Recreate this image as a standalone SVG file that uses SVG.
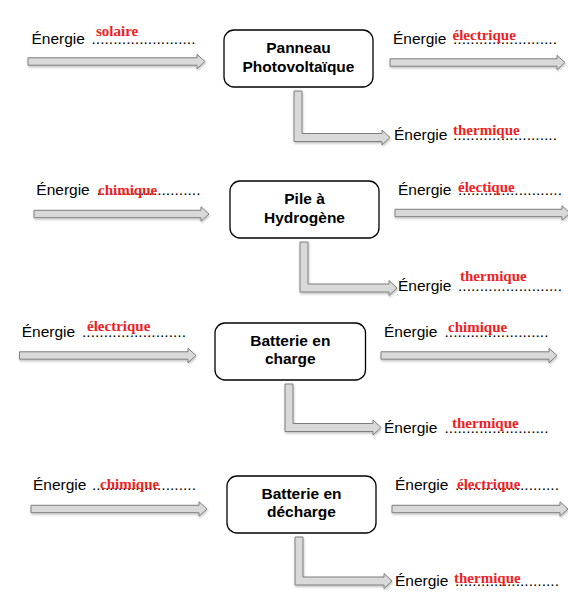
<svg xmlns="http://www.w3.org/2000/svg" width="568" height="594" viewBox="0 0 568 594">
<style>
.lbl{font-family:"Liberation Sans",Arial,sans-serif;font-size:15.5px;fill:#000}
.red{font-family:"Liberation Serif","Times New Roman",serif;font-size:15px;font-weight:bold;fill:#f01e23}
.box{fill:#fff;stroke:#000;stroke-width:1.3}
.bt{font-family:"Liberation Sans",Arial,sans-serif;font-size:15.5px;font-weight:bold;fill:#000;text-anchor:middle}
.arr{fill:#d9d9d9;stroke:#7f7f7f;stroke-width:1;filter:url(#sh)}
</style>
<defs>
<filter id="sh" x="-5%" y="-30%" width="110%" height="170%">
<feDropShadow dx="0.5" dy="1.5" stdDeviation="0.8" flood-color="#000" flood-opacity="0.25"/>
</filter>
</defs>
<rect width="568" height="594" fill="#fff"/>
<g id="connectors">
<path class="arr" d="M28 57.8H197V54.3L205 61.5L197 68.7V65.2H28Z"/>
<path class="arr" d="M390 58.8H557V55.3L565 62.5L557 69.7V66.2H390Z"/>
<path class="arr" d="M294 91H302V133.5H382V130L390 137.5L382 145V141.5H294Z"/>
<path class="arr" d="M34 210.3H201V206.8L209 214L201 221.2V217.7H34Z"/>
<path class="arr" d="M395 209.3H562V205.8L570 213L562 220.2V216.7H395Z"/>
<path class="arr" d="M300 242H308V284H389V280.5L397 288L389 295.5V292H300Z"/>
<path class="arr" d="M19.5 351.8H188V348.3L196 355.5L188 362.7V359.2H19.5Z"/>
<path class="arr" d="M381 351.8H549V348.3L557 355.5L549 362.7V359.2H381Z"/>
<path class="arr" d="M285 384H293V423.5H373V420L381 427.5L373 435V431.5H285Z"/>
<path class="arr" d="M31 505.3H199V501.8L207 509L199 516.2V512.7H31Z"/>
<path class="arr" d="M392 505.3H560V501.8L568 509L560 516.2V512.7H392Z"/>
<path class="arr" d="M295 537H303V577H384V573.5L392 581L384 588.5V585H295Z"/>
</g>
<g id="node-panneau">
<rect class="box" x="224" y="30" width="149" height="57" rx="10"/>
<text class="bt" x="298.5" y="53">Panneau</text>
<text class="bt" x="298.5" y="72">Photovoltaïque</text>
</g>
<g id="node-pile">
<rect class="box" x="230" y="181" width="149" height="57" rx="10"/>
<text class="bt" x="304.5" y="204">Pile à</text>
<text class="bt" x="304.5" y="223">Hydrogène</text>
</g>
<g id="node-batterie-charge">
<rect class="box" x="215" y="323" width="150.5" height="57" rx="10"/>
<text class="bt" x="290.3" y="346">Batterie en</text>
<text class="bt" x="290.3" y="364">charge</text>
</g>
<g id="node-batterie-decharge">
<rect class="box" x="227" y="476" width="149" height="57" rx="10"/>
<text class="bt" x="301.5" y="499">Batterie en</text>
<text class="bt" x="301.5" y="517">décharge</text>
</g>
<g id="labels-1">
<text class="lbl" x="31.5" y="43.5">Énergie</text>
<text class="lbl" x="91.5" y="43.5" textLength="104" lengthAdjust="spacing">........................</text>
<text class="red" x="96" y="35.5">solaire</text>
<text class="lbl" x="393" y="43.5">Énergie</text>
<text class="lbl" x="453" y="43.5" textLength="104" lengthAdjust="spacing">........................</text>
<text class="red" x="452.5" y="39.5">électrique</text>
<text class="lbl" x="394" y="139.5">Énergie</text>
<text class="lbl" x="453" y="139.5" textLength="104" lengthAdjust="spacing">........................</text>
<text class="red" x="453" y="134.5">thermique</text>
</g>
<g id="labels-2">
<text class="lbl" x="36.3" y="195">Énergie</text>
<text class="lbl" x="96.5" y="195" textLength="104" lengthAdjust="spacing">........................</text>
<text class="red" x="98" y="195">chimique</text>
<text class="lbl" x="398" y="195">Énergie</text>
<text class="lbl" x="458" y="195" textLength="104" lengthAdjust="spacing">........................</text>
<text class="red" x="458" y="192">électique</text>
<text class="lbl" x="398" y="290.5">Énergie</text>
<text class="lbl" x="458" y="290.5" textLength="104" lengthAdjust="spacing">........................</text>
<text class="red" x="460" y="280.5">thermique</text>
</g>
<g id="labels-3">
<text class="lbl" x="21.7" y="337">Énergie</text>
<text class="lbl" x="82" y="337" textLength="104" lengthAdjust="spacing">........................</text>
<text class="red" x="87" y="331">électrique</text>
<text class="lbl" x="384" y="337">Énergie</text>
<text class="lbl" x="444.5" y="337" textLength="104" lengthAdjust="spacing">........................</text>
<text class="red" x="448" y="331.5">chimique</text>
<text class="lbl" x="384" y="433">Énergie</text>
<text class="lbl" x="444.5" y="433" textLength="104" lengthAdjust="spacing">........................</text>
<text class="red" x="452" y="428">thermique</text>
</g>
<g id="labels-4">
<text class="lbl" x="33" y="490">Énergie</text>
<text class="lbl" x="92" y="490" textLength="104" lengthAdjust="spacing">........................</text>
<text class="red" x="100" y="489">chimique</text>
<text class="lbl" x="395" y="490">Énergie</text>
<text class="lbl" x="455" y="490" textLength="104" lengthAdjust="spacing">........................</text>
<text class="red" x="457" y="489">électrique</text>
<text class="lbl" x="395" y="586">Énergie</text>
<text class="lbl" x="455" y="586" textLength="104" lengthAdjust="spacing">........................</text>
<text class="red" x="454" y="583">thermique</text>
</g>
</svg>
